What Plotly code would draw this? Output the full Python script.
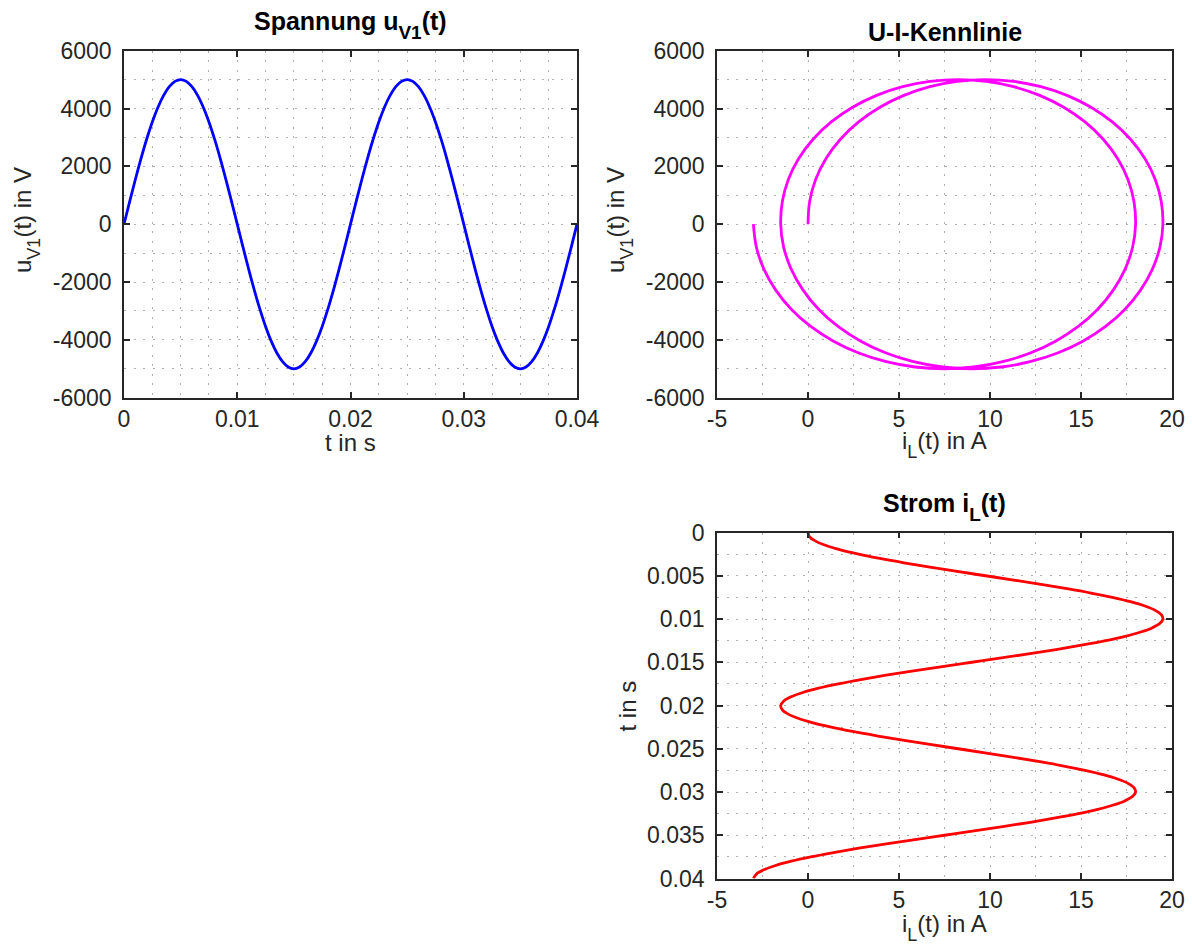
import plotly.graph_objects as go

# Sample times in s (0 ... 40 ms, 0.5 ms steps)
t = [0.0, 0.0005, 0.001, 0.0015, 0.002, 0.0025, 0.003, 0.0035, 0.004, 0.0045,
     0.005, 0.0055, 0.006, 0.0065, 0.007, 0.0075, 0.008, 0.0085, 0.009, 0.0095,
     0.01, 0.0105, 0.011, 0.0115, 0.012, 0.0125, 0.013, 0.0135, 0.014, 0.0145,
     0.015, 0.0155, 0.016, 0.0165, 0.017, 0.0175, 0.018, 0.0185, 0.019, 0.0195,
     0.02, 0.0205, 0.021, 0.0215, 0.022, 0.0225, 0.023, 0.0235, 0.024, 0.0245,
     0.025, 0.0255, 0.026, 0.0265, 0.027, 0.0275, 0.028, 0.0285, 0.029, 0.0295,
     0.03, 0.0305, 0.031, 0.0315, 0.032, 0.0325, 0.033, 0.0335, 0.034, 0.0345,
     0.035, 0.0355, 0.036, 0.0365, 0.037, 0.0375, 0.038, 0.0385, 0.039, 0.0395,
     0.04]

# Source voltage u_V1(t) in V
u_v1 = [0, 782, 1545, 2270, 2939, 3536, 4045, 4455, 4755, 4938,
        5000, 4938, 4755, 4455, 4045, 3536, 2939, 2270, 1545, 782,
        0, -782, -1545, -2270, -2939, -3536, -4045, -4455, -4755, -4938,
        -5000, -4938, -4755, -4455, -4045, -3536, -2939, -2270, -1545, -782,
        0, 782, 1545, 2270, 2939, 3536, 4045, 4455, 4755, 4938,
        5000, 4938, 4755, 4455, 4045, 3536, 2939, 2270, 1545, 782,
        0, -782, -1545, -2270, -2939, -3536, -4045, -4455, -4755, -4938,
        -5000, -4938, -4755, -4455, -4045, -3536, -2939, -2270, -1545, -782,
        0]

# Inductor current i_L(t) in A
i_l = [0.00, 0.09, 0.42, 0.99, 1.78, 2.78, 3.95, 5.27, 6.70, 8.20,
       9.75, 11.30, 12.80, 14.23, 15.55, 16.72, 17.72, 18.51, 19.08, 19.41,
       19.50, 19.34, 18.93, 18.28, 17.42, 16.35, 15.10, 13.71, 12.20, 10.62,
       9.00, 7.38, 5.80, 4.29, 2.90, 1.65, 0.58, -0.28, -0.93, -1.34,
       -1.50, -1.41, -1.08, -0.51, 0.28, 1.28, 2.45, 3.77, 5.20, 6.70,
       8.25, 9.80, 11.30, 12.73, 14.05, 15.22, 16.22, 17.01, 17.58, 17.91,
       18.00, 17.84, 17.43, 16.78, 15.92, 14.85, 13.60, 12.21, 10.70, 9.12,
       7.50, 5.88, 4.30, 2.79, 1.40, 0.15, -0.92, -1.78, -2.43, -2.84,
       -3.00]

# Tick values and labels
t_ticks = [0, 0.01, 0.02, 0.03, 0.04]
t_tick_text = ["0", "0.01", "0.02", "0.03", "0.04"]
t_ticks_fine = [0, 0.005, 0.01, 0.015, 0.02, 0.025, 0.03, 0.035, 0.04]
t_tick_text_fine = ["0", "0.005", "0.01", "0.015", "0.02", "0.025", "0.03", "0.035", "0.04"]
u_ticks = [-6000, -4000, -2000, 0, 2000, 4000, 6000]
u_tick_text = ["-6000", "-4000", "-2000", "0", "2000", "4000", "6000"]
i_ticks = [-5, 0, 5, 10, 15, 20]
i_tick_text = ["-5", "0", "5", "10", "15", "20"]

W, H = 1192, 944
FONT = "Liberation Sans, Arial, Helvetica, sans-serif"
INK = "#262626"
GRID = "#b0b0b0"
DASH = "2px,7.5px"


def fx(p):
    return p / W


def fy(p):
    return 1 - p / H


def axis(domain, rng, tickvals, ticktext, minor_dtick, standoff):
    return dict(
        domain=domain, range=rng, automargin=False,
        tickmode="array", tickvals=tickvals, ticktext=ticktext,
        ticks="inside", ticklen=6, tickwidth=1.5, tickcolor=INK,
        showline=True, linecolor=INK, linewidth=1.6, mirror="ticks",
        showgrid=True, gridcolor=GRID, gridwidth=1, griddash=DASH,
        minor=dict(tickmode="linear", tick0=min(rng), dtick=minor_dtick,
                   showgrid=True, gridcolor=GRID, gridwidth=1,
                   griddash=DASH, ticks=""),
        zeroline=False, fixedrange=True,
        tickfont=dict(family=FONT, size=23, color=INK),
        ticklabelstandoff=standoff,
    )


# pixel frames of the three axes boxes
TL_X = [fx(124), fx(577)]
TR_X = [fx(717), fx(1172)]
TOP_Y = [fy(397.7), fy(50.7)]
BOT_Y = [fy(878.5), fy(532.5)]

LINE_W = 2.8
fig = go.Figure()
fig.add_trace(go.Scatter(x=t, y=u_v1, xaxis="x", yaxis="y", mode="lines",
                         line=dict(color="#0000ff", width=LINE_W, shape="spline", smoothing=1)))
fig.add_trace(go.Scatter(x=i_l, y=u_v1, xaxis="x2", yaxis="y2", mode="lines",
                         line=dict(color="#ff00ff", width=LINE_W, shape="spline", smoothing=1)))
fig.add_trace(go.Scatter(x=i_l, y=t, xaxis="x3", yaxis="y3", mode="lines",
                         line=dict(color="#ff0000", width=LINE_W, shape="spline", smoothing=1)))

fig.update_layout(
    width=W, height=H, autosize=False,
    margin=dict(l=0, r=0, t=0, b=0, pad=0, autoexpand=False),
    paper_bgcolor="white", plot_bgcolor="white",
    showlegend=False, hovermode=False,
    font=dict(family=FONT, color=INK),
    xaxis=axis(TL_X, [0, 0.04], t_ticks, t_tick_text, 0.0025, 0),
    yaxis=axis(TOP_Y, [-6000, 6000], u_ticks, u_tick_text, 1000, 6),
    xaxis2=axis(TR_X, [-5, 20], i_ticks, i_tick_text, 2.5, 0),
    yaxis2=axis(TOP_Y, [-6000, 6000], u_ticks, u_tick_text, 1000, 6),
    xaxis3=axis(TR_X, [-5, 20], i_ticks, i_tick_text, 2.5, 0),
    yaxis3=axis(BOT_Y, [0.04, 0], t_ticks_fine, t_tick_text_fine, 0.0025, 6),
)
fig.layout.xaxis.anchor = "y"
fig.layout.yaxis.anchor = "x"
fig.layout.xaxis2.anchor = "y2"
fig.layout.yaxis2.anchor = "x2"
fig.layout.xaxis3.anchor = "y3"
fig.layout.yaxis3.anchor = "x3"

TITLE_FONT = dict(family=FONT, size=25, color="#000000")
LABEL_FONT = dict(family=FONT, size=24, color=INK)


def sub(txt, size):
    # lowered, slightly larger subscript
    return f'<sub><span style="font-size:{size}px;baseline-shift:-4px">{txt}</span></sub>'


def note(text, px, py, font, angle=0):
    fig.add_annotation(text=text, x=fx(px), y=fy(py), xref="paper", yref="paper",
                       xanchor="center", yanchor="middle", showarrow=False,
                       font=font, textangle=angle)


# subplot titles
note(f"<b>Spannung u{sub('V1', 19)}(t)</b>", 350.5, 25, TITLE_FONT)
note("<b>U-I-Kennlinie</b>", 944.5, 32, TITLE_FONT)
note(f"<b>Strom i{sub('L', 19)}(t)</b>", 944.5, 507, TITLE_FONT)

# axis labels
note("t in s", 350.5, 442, LABEL_FONT)
note(f"i{sub('L', 18)}(t) in A", 944.5, 444, LABEL_FONT)
note(f"i{sub('L', 18)}(t) in A", 944.5, 927, LABEL_FONT)
note(f"u{sub('V1', 18)}(t) in V", 26, 220, LABEL_FONT, -90)
note(f"u{sub('V1', 18)}(t) in V", 619, 220, LABEL_FONT, -90)
note("t in s", 627, 705.5, LABEL_FONT, -90)

fig.write_html("out.html", config={"displayModeBar": False})
